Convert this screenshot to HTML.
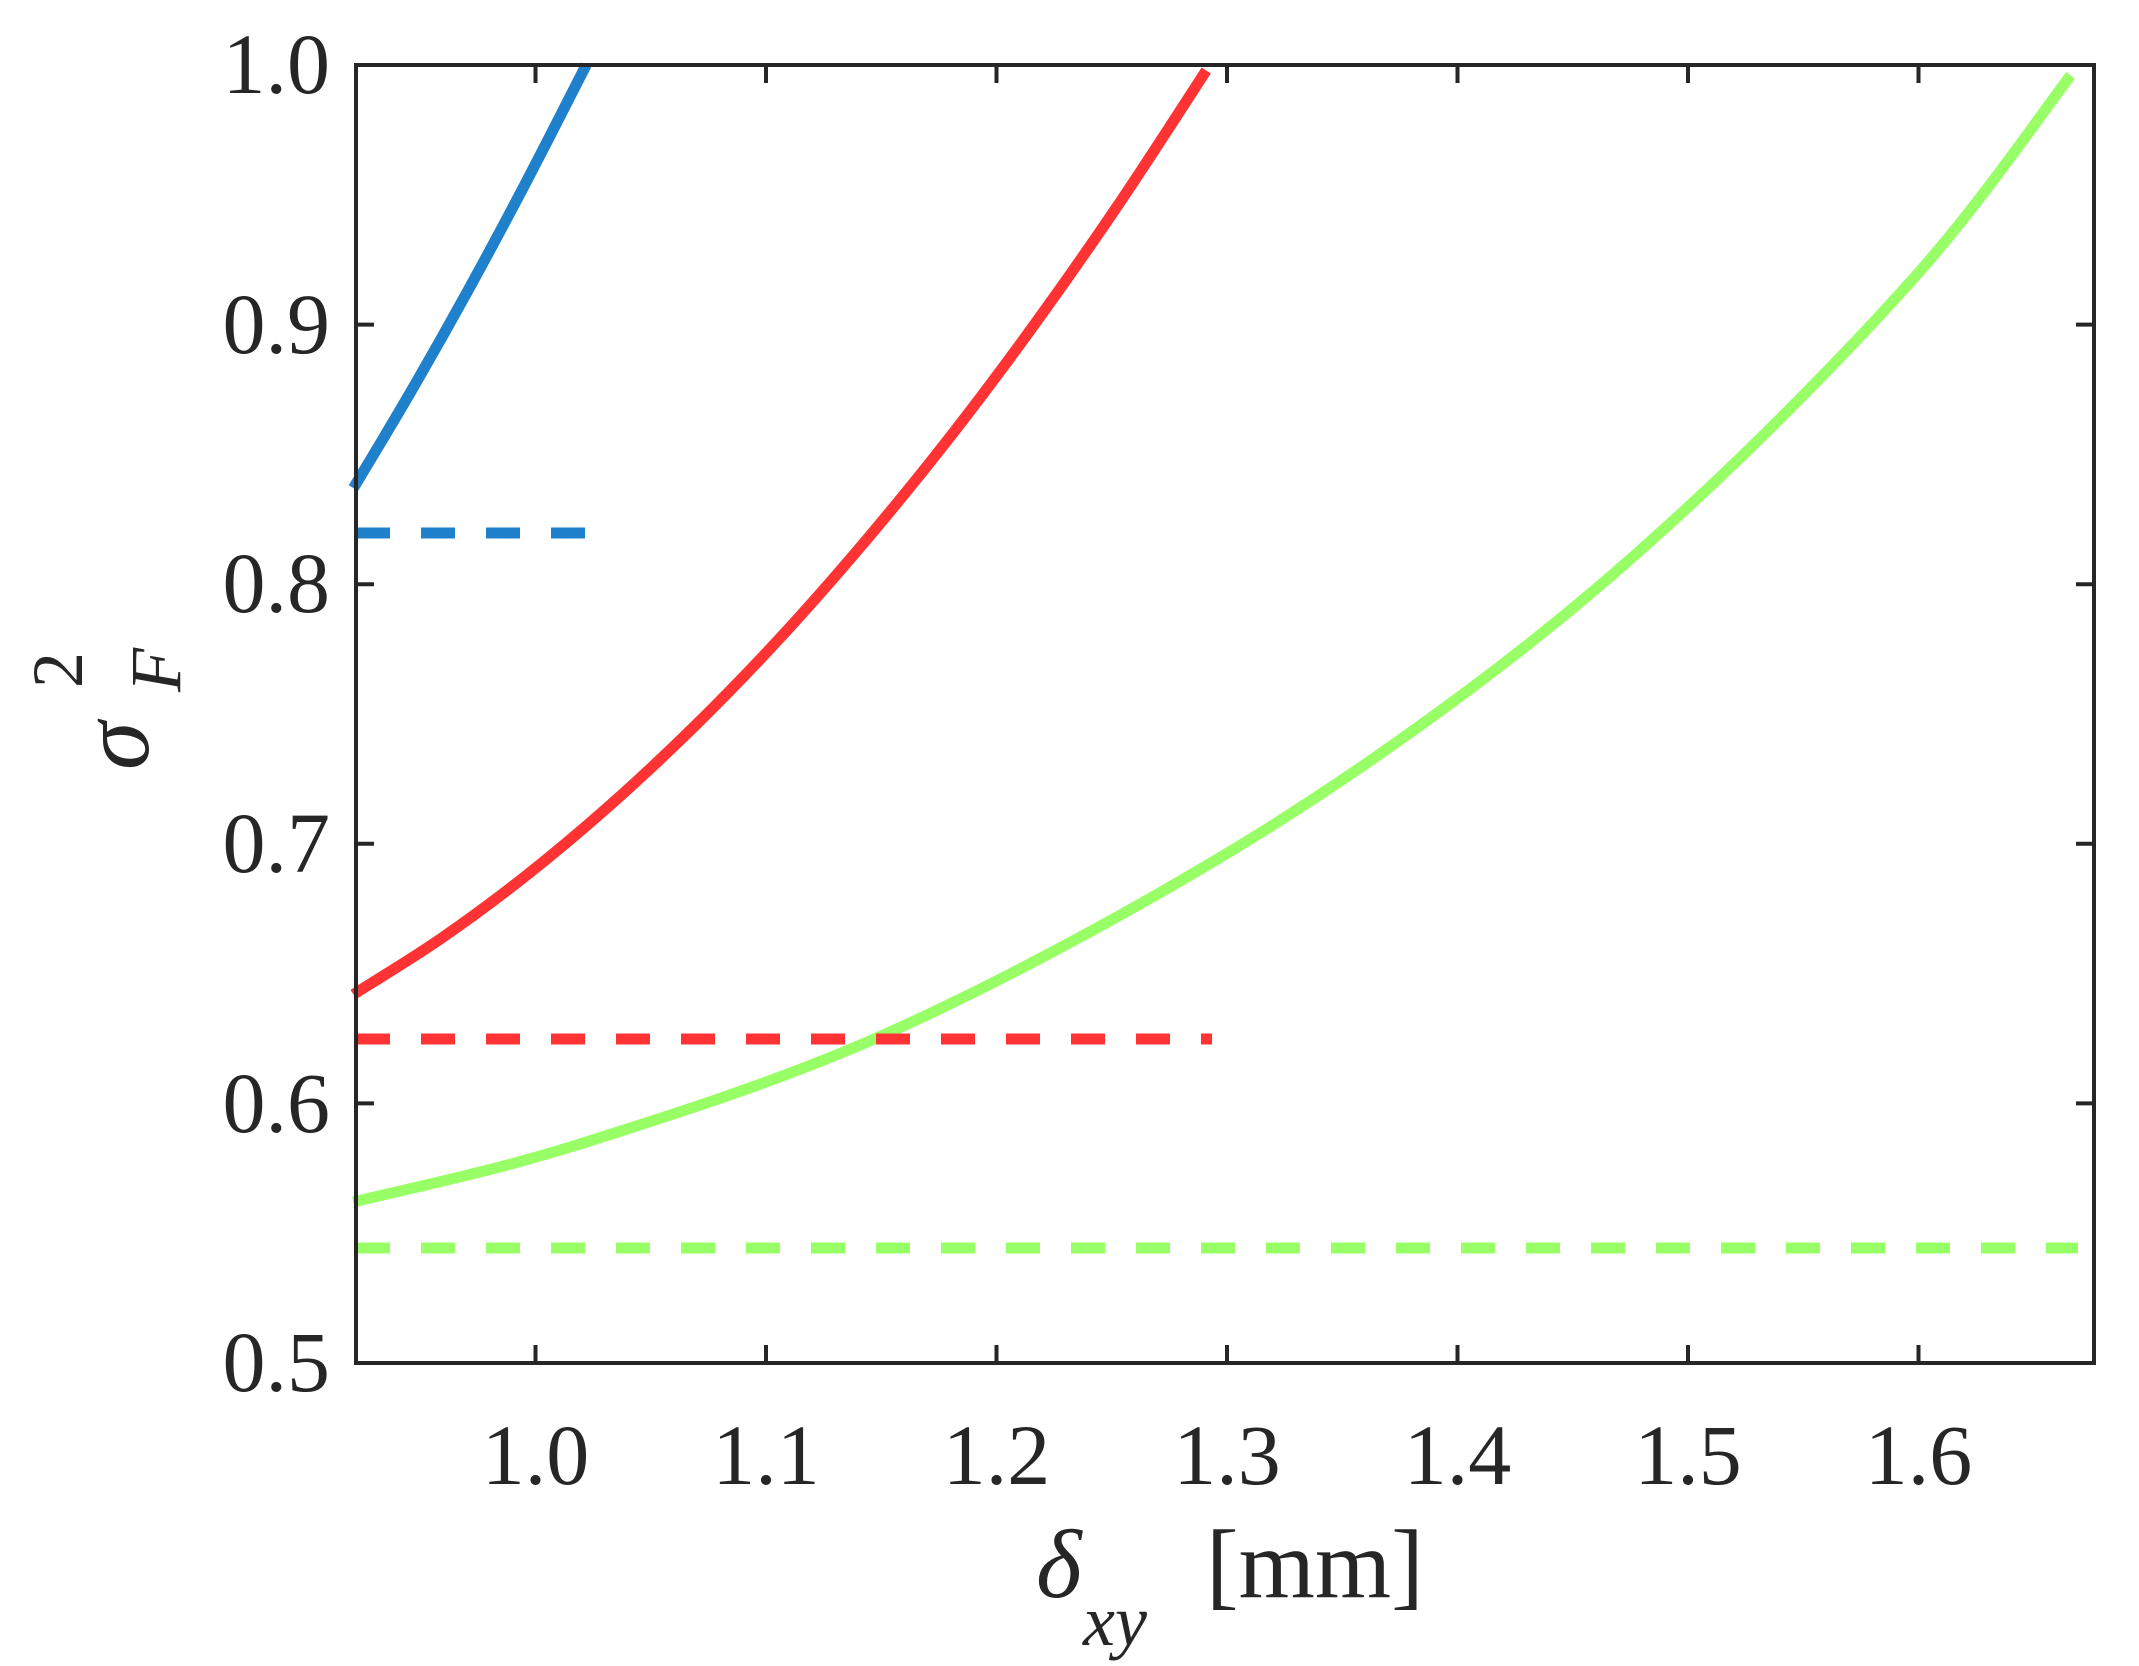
<!DOCTYPE html>
<html><head><meta charset="utf-8"><style>html,body{margin:0;padding:0;background:#fff}svg{display:block}</style></head>
<body>
<svg id="s" width="2139" height="1666" viewBox="0 0 2139 1666" xmlns="http://www.w3.org/2000/svg">
<rect width="2139" height="1666" fill="#fff"/>
<g fill="none" stroke-linecap="butt">
<path id="pb" stroke="#1f80cc" stroke-width="11"/>
<path id="pr" stroke="#ff3333" stroke-width="11"/>
<path id="pg" stroke="#99ff66" stroke-width="11"/>
<line x1="356" y1="533" x2="588" y2="533" stroke="#1f80cc" stroke-width="11" stroke-dasharray="34,31"/>
<line x1="356" y1="1039" x2="1212" y2="1039" stroke="#ff3333" stroke-width="11" stroke-dasharray="34,31"/>
<line x1="356" y1="1248" x2="2078" y2="1248" stroke="#99ff66" stroke-width="11" stroke-dasharray="34,31"/>
</g>
<g stroke="#262626" stroke-width="4" fill="none">
<rect x="356" y="65" width="1738" height="1298"/>
<path d="M535.5,1363v-18M766,1363v-18M996.5,1363v-18M1227,1363v-18M1457.5,1363v-18M1688,1363v-18M1918.5,1363v-18
M535.5,65v18M766,65v18M996.5,65v18M1227,65v18M1457.5,65v18M1688,65v18M1918.5,65v18
M356,1103.4h18M356,843.8h18M356,584.2h18M356,324.6h18
M2094,1103.4h-18M2094,843.8h-18M2094,584.2h-18M2094,324.6h-18"/>
</g>
<g font-family="Liberation Serif, serif" font-size="86" fill="#262626">
<g text-anchor="middle">
<text x="535.5" y="1484">1.0</text><text x="766" y="1484">1.1</text><text x="996.5" y="1484">1.2</text><text x="1227" y="1484">1.3</text><text x="1457.5" y="1484">1.4</text><text x="1688" y="1484">1.5</text><text x="1918.5" y="1484">1.6</text>
</g>
<g text-anchor="end">
<text x="330" y="93">1.0</text><text x="330" y="353">0.9</text><text x="330" y="612">0.8</text><text x="330" y="872">0.7</text><text x="330" y="1132">0.6</text><text x="330" y="1391">0.5</text>
</g>
<text x="1036" y="1597" font-size="98" font-style="italic">δ</text>
<text x="1083" y="1645" font-size="72" font-style="italic">xy</text>
<text x="1206" y="1597" font-size="98">[mm]</text>
<text transform="translate(148,770) rotate(-90)" font-size="98" font-style="italic">σ</text>
<text transform="translate(180,692) rotate(-90)" font-size="72" font-style="italic">F</text>
<text transform="translate(82,688) rotate(-90)" font-size="72">2</text>
</g>
</svg>
<script>
function X(v){return 2305*v-1769.5}function Y(v){return 2661-2596*v}
function path(id,pts){var p=pts.map(function(a){return [X(a[0]),Y(a[1])]});
var d="M"+p[0][0].toFixed(1)+","+p[0][1].toFixed(1);
for(var i=0;i<p.length-1;i++){var p0=p[i-1]||p[i],p1=p[i],p2=p[i+1],p3=p[i+2]||p2;
var c1=[p1[0]+(p2[0]-p0[0])/6,p1[1]+(p2[1]-p0[1])/6],c2=[p2[0]-(p3[0]-p1[0])/6,p2[1]-(p3[1]-p1[1])/6];
d+="C"+c1.join(",")+" "+c2.join(",")+" "+p2.join(",");}
document.getElementById(id).setAttribute("d",d);}
path("pb",[[0.921,0.837],[0.946,0.8743],[0.971,0.9136],[0.996,0.955],[1.022,1.0]]);
path("pr",[[0.921,0.642],[0.958,0.6629],[0.995,0.6871],[1.032,0.7146],[1.069,0.7453],[1.106,0.7792],[1.143,0.8165],[1.180,0.8569],[1.217,0.9007],[1.254,0.9477],[1.291,0.9979]]);
path("pg",[[0.921,0.562],[1.018,0.584],[1.150,0.626],[1.290,0.691],[1.406,0.760],[1.504,0.833],[1.601,0.921],[1.666,0.996]]);
</script>
</body></html>
